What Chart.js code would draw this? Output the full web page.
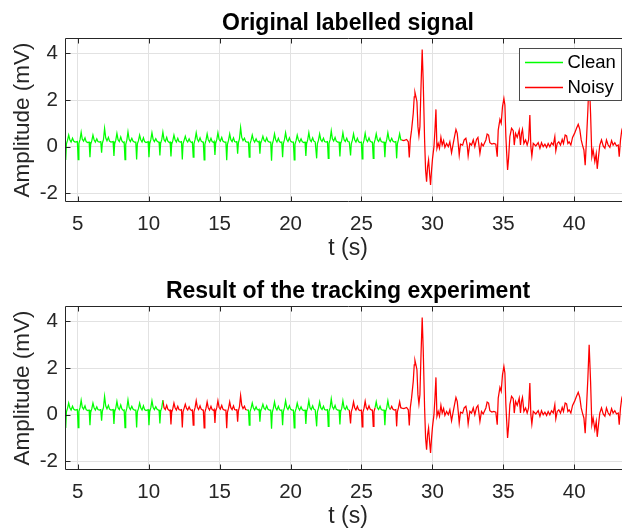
<!DOCTYPE html>
<html><head><meta charset="utf-8">
<script src="https://cdn.jsdelivr.net/npm/chart.js@4.4.1/dist/chart.umd.min.js"></script>
<style>
html,body{margin:0;padding:0;background:#fff;overflow:hidden;width:622px;height:529px;position:relative;}
.wrap{position:absolute;left:0;width:631px;height:268px;}
canvas{display:block;}
</style></head><body>
<div class="wrap" style="top:0"><canvas id="c1" width="631" height="268"></canvas></div>
<div class="wrap" style="top:268px"><canvas id="c2" width="631" height="268"></canvas></div>
<script>
// ---- data ----
const signalTime = [
4.10,4.15,4.20,4.28,4.36,4.44,4.53,4.63,4.71,4.81,
4.97,5.03,5.08,5.16,5.24,5.32,5.41,5.51,5.59,5.69,
5.80,5.86,5.91,5.99,6.07,6.15,6.24,6.34,6.42,6.52,
6.62,6.68,6.73,6.81,6.89,6.97,7.06,7.16,7.24,7.34,
7.49,7.55,7.60,7.68,7.76,7.84,7.93,8.03,8.11,8.21,
8.27,8.33,8.38,8.46,8.54,8.62,8.71,8.81,8.89,8.99,
9.09,9.15,9.20,9.28,9.36,9.44,9.53,9.63,9.71,9.81,
9.96,10.02,10.07,10.15,10.23,10.31,10.40,10.50,10.58,10.68,
10.73,10.79,10.84,10.92,11.00,11.08,11.17,11.27,11.35,11.45,
11.51,11.57,11.62,11.70,11.78,11.86,11.95,12.05,12.13,12.23,
12.31,12.37,12.42,12.50,12.58,12.66,12.75,12.85,12.93,13.03,
13.08,13.14,13.19,13.27,13.35,13.43,13.52,13.62,13.70,13.80,
13.85,13.91,13.96,14.04,14.12,14.20,14.29,14.39,14.47,14.57,
14.61,14.67,14.72,14.80,14.88,14.96,15.05,15.15,15.23,15.33,
15.44,15.50,15.55,15.63,15.71,15.79,15.88,15.98,16.06,16.16,
16.21,16.27,16.32,16.40,16.48,16.56,16.65,16.75,16.83,16.93,
17.03,17.09,17.14,17.22,17.30,17.38,17.47,17.57,17.65,17.75,
17.78,17.84,17.89,17.97,18.05,18.13,18.22,18.32,18.40,18.50,
18.60,18.66,18.71,18.79,18.87,18.95,19.04,19.14,19.22,19.32,
19.38,19.44,19.49,19.57,19.65,19.73,19.82,19.92,20.00,20.10,
20.20,20.26,20.31,20.39,20.47,20.55,20.64,20.74,20.82,20.92,
21.02,21.08,21.13,21.21,21.29,21.37,21.46,21.56,21.64,21.74,
21.78,21.84,21.89,21.97,22.05,22.13,22.22,22.32,22.40,22.50,
22.60,22.66,22.71,22.79,22.87,22.95,23.04,23.14,23.22,23.32,
23.42,23.48,23.53,23.61,23.69,23.77,23.86,23.96,24.04,24.14,
24.17,24.23,24.28,24.36,24.44,24.52,24.61,24.71,24.79,24.89,
24.99,25.05,25.10,25.18,25.26,25.34,25.43,25.53,25.61,25.71,
25.77,25.83,25.88,25.96,26.04,26.12,26.21,26.31,26.39,26.49,
26.59,26.65,26.70,26.78,26.86,26.94,27.03,27.13,27.21,27.31,
27.42,27.48,27.53,27.61,27.69,27.77,
27.85,27.99,28.18,28.30,28.37,28.44,28.53,28.65,28.72,28.77,28.84,28.91,28.98,29.05,29.12,29.19,29.28,29.35,29.45,
29.52,29.59,29.66,29.73,29.80,29.87,29.94,30.01,30.11,30.18,30.25,30.32,30.41,30.50,30.60,30.69,30.79,30.88,
31.00,31.12,31.23,31.35,31.47,31.56,31.66,31.75,31.82,31.89,31.98,32.13,32.24,32.36,32.45,32.52,32.64,32.76,32.88,32.99,
33.11,33.21,33.28,33.35,33.46,33.58,33.77,33.86,33.96,34.05,34.19,34.33,34.47,34.57,34.64,34.76,34.85,34.94,
35.04,35.11,35.18,35.23,35.30,35.37,35.46,35.58,35.70,35.77,35.86,35.98,36.12,36.21,36.28,36.35,36.45,36.57,36.68,36.78,36.87,36.94,
37.01,37.11,37.29,37.46,37.58,37.69,37.81,37.93,38.05,38.16,38.28,38.40,38.52,38.63,38.70,38.80,38.91,
39.03,39.15,39.24,39.36,39.46,39.55,39.64,39.76,39.88,40.02,40.16,40.28,40.39,40.49,40.58,40.68,40.77,40.86,40.96,
41.05,41.15,41.24,41.33,41.45,41.55,41.62,41.71,41.80,41.92,42.04,42.16,42.27,42.39,42.51,42.63,42.74,42.86,42.98,
43.10,43.17,43.26,43.35,43.45
];
const signalAmp = [
0.15,-0.57,0.12,0.28,0.50,0.30,0.20,0.36,0.24,0.20,
0.22,-0.55,0.14,0.30,0.62,0.32,0.24,0.38,0.22,0.18,
0.20,-0.45,0.10,0.26,0.50,0.30,0.20,0.34,0.22,0.20,
0.22,-0.26,0.15,0.30,0.78,0.38,0.25,0.40,0.24,0.20,
0.22,-0.40,0.12,0.28,0.57,0.30,0.22,0.42,0.25,0.18,
0.20,-0.55,0.10,0.28,0.64,0.32,0.22,0.36,0.24,0.20,
0.20,-0.55,0.12,0.26,0.50,0.30,0.20,0.38,0.22,0.18,
0.22,-0.45,0.12,0.30,0.60,0.32,0.22,0.34,0.24,0.20,
0.20,-0.38,0.14,0.30,0.62,0.30,0.22,0.40,0.24,0.18,
0.20,-0.42,0.10,0.26,0.50,0.30,0.20,0.36,0.22,0.20,
0.22,-0.55,0.12,0.28,0.45,0.28,0.20,0.34,0.22,0.18,
0.20,-0.45,0.12,0.30,0.60,0.32,0.22,0.38,0.24,0.20,
0.20,-0.57,0.10,0.28,0.55,0.30,0.20,0.36,0.22,0.18,
0.22,-0.35,0.14,0.30,0.60,0.32,0.24,0.40,0.24,0.20,
0.20,-0.58,0.10,0.28,0.55,0.30,0.22,0.38,0.22,0.20,
0.24,-0.30,0.15,0.35,0.82,0.40,0.26,0.36,0.22,0.20,
0.20,-0.45,0.12,0.28,0.50,0.30,0.20,0.34,0.22,0.20,
0.22,-0.30,0.14,0.28,0.45,0.28,0.22,0.38,0.24,0.20,
0.20,-0.60,0.10,0.28,0.55,0.30,0.20,0.36,0.22,0.18,
0.20,-0.45,0.12,0.30,0.60,0.32,0.22,0.38,0.24,0.20,
0.20,-0.57,0.10,0.26,0.50,0.30,0.20,0.34,0.22,0.18,
0.20,-0.40,0.12,0.30,0.60,0.30,0.22,0.38,0.24,0.20,
0.20,-0.50,0.12,0.28,0.55,0.30,0.22,0.36,0.22,0.20,
0.22,-0.50,0.14,0.30,0.68,0.34,0.24,0.40,0.24,0.20,
0.20,-0.42,0.12,0.28,0.60,0.30,0.22,0.36,0.22,0.20,
0.20,-0.38,0.12,0.28,0.55,0.30,0.20,0.36,0.22,0.18,
0.20,-0.52,0.10,0.28,0.58,0.30,0.22,0.38,0.24,0.20,
0.20,-0.50,0.12,0.30,0.55,0.30,0.22,0.36,0.22,0.20,
0.20,-0.45,0.12,0.30,0.60,0.32,0.22,0.36,0.24,0.20,
0.22,-0.50,0.12,0.30,0.55,0.30,
0.28,0.26,0.31,0.21,-0.46,0.29,0.71,1.43,2.14,2.33,2.14,1.93,0.86,0.46,0.86,2.43,4.17,2.86,0.29,
-1.00,-1.50,-0.86,-0.57,-1.14,-1.64,-1.00,-0.50,0.00,0.71,1.60,-0.07,0.14,-0.07,0.40,0.07,0.26,-0.03,
0.14,0.00,0.21,-0.26,0.14,0.43,0.74,0.57,0.14,-0.36,0.11,0.07,0.29,0.36,0.07,-0.40,0.14,0.07,0.29,0.00,
0.31,0.40,0.07,-0.29,0.14,0.03,0.29,0.54,0.50,0.17,0.11,0.14,0.11,-0.43,0.71,1.17,1.00,1.71,
2.07,1.79,0.43,-0.21,-1.00,-0.50,0.43,0.79,0.69,0.07,0.57,0.40,0.71,0.07,0.57,0.74,0.14,0.29,0.07,0.29,1.36,0.00,
-0.40,0.14,0.03,0.17,-0.07,0.17,0.00,0.11,-0.03,0.14,0.00,0.17,0.07,0.43,-0.17,0.14,0.21,
0.07,0.31,0.14,0.50,0.46,0.14,0.21,0.07,0.40,0.57,0.79,0.96,0.74,0.29,0.07,-0.14,-0.79,0.29,1.57,
3.00,1.43,-0.43,-0.14,-0.64,-0.29,-0.95,-0.43,0.07,0.29,0.03,-0.07,0.29,0.07,-0.03,0.26,0.07,0.17,0.03,
0.07,-0.43,0.29,0.71,0.90
];
const xTicks = [5, 10, 15, 20, 25, 30, 35, 40];
const yTicks = [-2, 0, 2, 4];
const seriesLabels = ['Clean', 'Noisy'];
const seriesColors = ['#00ff00', '#ff0000'];
const chartTitles = ['Original labelled signal', 'Result of the tracking experiment'];
const xLabel = 't (s)';
const yLabel = 'Amplitude (mV)';
// time intervals labelled "Noisy" in each panel
const noisyTop = [[27.85, 44]];
const noisyBottom = [[10.96, 16.9], [24.05, 25.95], [26.95, 44]];

// ---- styling ----
const FONT = '"Liberation Sans", Helvetica, Arial, sans-serif';
const AXIS = '#262626';
const GRID = '#e2e2e2';

function isNoisy(t, intervals) { return intervals.some(([a, b]) => t >= a && t < b); }
function buildData(intervals) {
  const cls = signalTime.map(t => isNoisy(t, intervals) ? 1 : 0);
  const clean = [], noisy = [];
  for (let i = 0; i < signalTime.length; i++) {
    const inClean = cls[i] === 0 || (i > 0 && cls[i - 1] === 0);
    const inNoisy = cls[i] === 1 || (i > 0 && cls[i - 1] === 1);
    clean.push({x: signalTime[i], y: inClean ? signalAmp[i] : null});
    noisy.push({x: signalTime[i], y: inNoisy ? signalAmp[i] : null});
  }
  return [clean, noisy];
}

const framePlugin = {
  id: 'frame',
  afterDatasetsDraw(chart) {
    const {ctx, chartArea: a, scales: {x, y}} = chart;
    ctx.save();
    ctx.strokeStyle = AXIS; ctx.lineWidth = 1;
    const L = Math.floor(a.left) + 0.5, R = Math.floor(a.right) + 0.5;
    const T = Math.floor(a.top) + 0.5, B = Math.floor(a.bottom) + 0.5;
    ctx.beginPath();
    ctx.rect(L, T, R - L, B - T);
    x.ticks.forEach(t => {
      const px = Math.round(x.getPixelForValue(t.value)) + 0.5;
      ctx.moveTo(px, T); ctx.lineTo(px, T + 5);
      ctx.moveTo(px, B); ctx.lineTo(px, B - 5);
    });
    y.ticks.forEach(t => {
      const py = Math.round(y.getPixelForValue(t.value)) + 0.5;
      ctx.moveTo(L, py); ctx.lineTo(L + 5, py);
      ctx.moveTo(R, py); ctx.lineTo(R - 5, py);
    });
    ctx.stroke();
    ctx.restore();
  }
};

const legendPlugin = {
  id: 'insetLegend',
  afterDraw(chart, args, opts) {
    if (!opts.display) return;
    const ctx = chart.ctx, a = chart.chartArea;
    const w = 102, h = 52;
    const x0 = Math.round(a.right - 10.5 - w), y0 = Math.round(a.top + 10);
    ctx.save();
    ctx.fillStyle = '#fff'; ctx.fillRect(x0, y0, w, h);
    ctx.strokeStyle = '#4a4a4a'; ctx.lineWidth = 1;
    ctx.strokeRect(x0 + 0.5, y0 + 0.5, w, h);
    seriesLabels.forEach((label, i) => {
      const cy = y0 + 14 + i * 25;
      ctx.strokeStyle = seriesColors[i]; ctx.lineWidth = 1.4;
      ctx.beginPath(); ctx.moveTo(x0 + 6, cy + 0.5); ctx.lineTo(x0 + 44, cy + 0.5); ctx.stroke();
      ctx.fillStyle = '#000'; ctx.font = '18.5px ' + FONT;
      ctx.textBaseline = 'middle'; ctx.textAlign = 'left';
      ctx.fillText(label, x0 + 48.5, cy + 1);
    });
    ctx.restore();
  }
};

function makeChart(id, title, intervals, showLegend) {
  const [clean, noisy] = buildData(intervals);
  const common = {borderWidth: 1.25, pointRadius: 0, tension: 0, fill: false, spanGaps: false};
  return new Chart(document.getElementById(id), {
    type: 'line',
    data: {datasets: [
      Object.assign({label: seriesLabels[0], data: clean, borderColor: seriesColors[0]}, common),
      Object.assign({label: seriesLabels[1], data: noisy, borderColor: seriesColors[1]}, common)
    ]},
    options: {
      responsive: false, animation: false, devicePixelRatio: 1,
      layout: {padding: 0},
      plugins: {
        legend: {display: false},
        tooltip: {enabled: false},
        title: {display: true, text: title, fullSize: false, color: '#000',
          font: {family: FONT, size: 23, weight: 'bold'}, padding: {top: 9.4, bottom: 1.3}},
        insetLegend: {display: showLegend}
      },
      scales: {
        x: {
          type: 'linear', min: 4.1, max: 44,
          afterBuildTicks: s => { s.ticks = xTicks.map(v => ({value: v})); },
          afterFit: s => { s.height = 66.3; },
          grid: {color: GRID, drawTicks: false, lineWidth: 1},
          border: {display: false},
          ticks: {font: {family: FONT, size: 20.5}, color: AXIS, padding: 10.5, maxRotation: 0, autoSkip: false},
          title: {display: true, text: xLabel, color: AXIS, font: {family: FONT, size: 23}, padding: {top: 0, bottom: 5.5}}
        },
        y: {
          type: 'linear', min: -2.36, max: 4.65,
          afterBuildTicks: s => { s.ticks = yTicks.map(v => ({value: v})); },
          afterFit: s => { s.width = 65; },
          grid: {color: GRID, drawTicks: false, lineWidth: 1},
          border: {display: false},
          ticks: {font: {family: FONT, size: 20.5}, color: AXIS, padding: 7},
          title: {display: true, text: yLabel, color: AXIS, font: {family: FONT, size: 22.5}, padding: {top: 9.5, bottom: 0}}
        }
      }
    },
    plugins: [framePlugin, legendPlugin]
  });
}

makeChart('c1', chartTitles[0], noisyTop, true);
makeChart('c2', chartTitles[1], noisyBottom, false);
</script>
</body></html>
